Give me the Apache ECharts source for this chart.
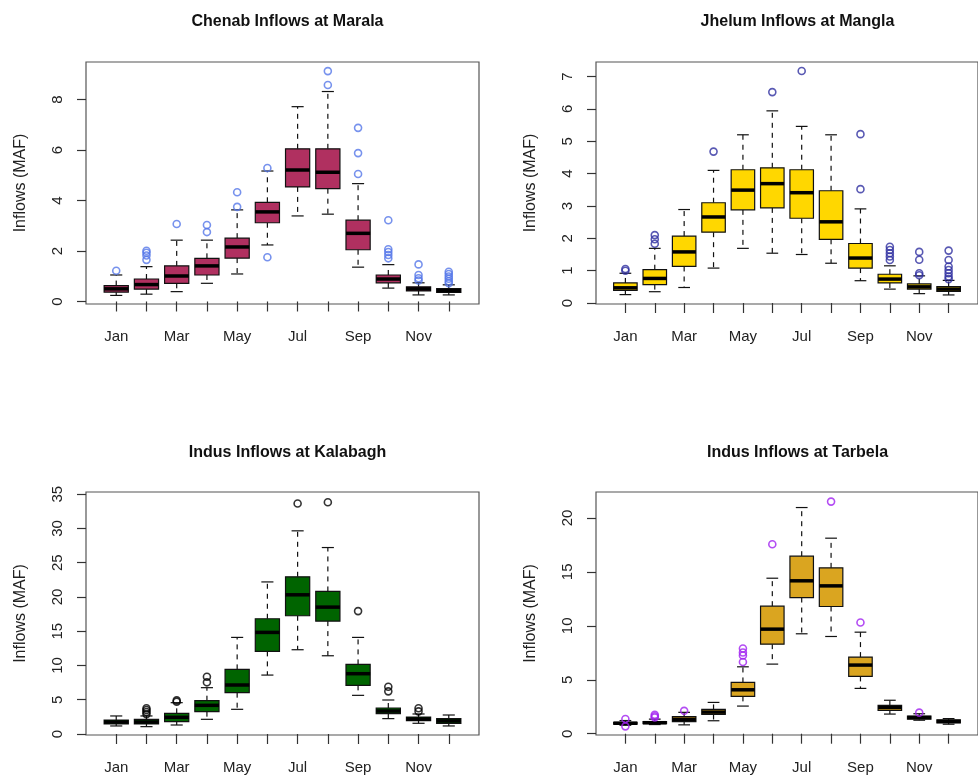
<!DOCTYPE html>
<html>
<head>
<meta charset="utf-8">
<script src="https://cdn.jsdelivr.net/npm/echarts@6/dist/echarts.min.js"></script>
<style>
html,body{margin:0;padding:0;background:#fff;}
#chart{width:978px;height:779px;}
</style>
</head>
<body>
<div id="chart"></div>
<script>
// ---------- data ----------
const months = ['Jan','Feb','Mar','Apr','May','Jun','Jul','Aug','Sep','Oct','Nov','Dec'];
const labelledMonths = [1, 3, 5, 7, 9, 11];
const monthTicks = [1,2,3,4,5,6,7,8,9,10,11,12];

// [lower whisker, Q1, median, Q3, upper whisker] per month
const chenabStats = [
  [0.24, 0.37, 0.50, 0.63, 1.05],
  [0.29, 0.49, 0.67, 0.89, 1.38],
  [0.39, 0.72, 1.01, 1.41, 2.43],
  [0.72, 1.05, 1.41, 1.71, 2.43],
  [1.09, 1.72, 2.16, 2.51, 3.63],
  [2.24, 3.12, 3.55, 3.93, 5.17],
  [3.39, 4.54, 5.21, 6.05, 7.72],
  [3.46, 4.47, 5.12, 6.05, 8.32],
  [1.36, 2.05, 2.70, 3.22, 4.67],
  [0.53, 0.74, 0.89, 1.05, 1.46],
  [0.26, 0.42, 0.50, 0.58, 0.74],
  [0.26, 0.36, 0.43, 0.51, 0.66]
];
const chenabOutliers = [
  [1,1.22],[2,1.65],[2,1.82],[2,1.93],[2,2.01],[3,3.07],[4,2.75],[4,3.03],
  [5,3.75],[5,4.33],[6,5.29],[6,1.75],[8,8.58],[8,9.13],[9,5.05],[9,5.88],[9,6.88],
  [10,1.71],[10,1.84],[10,1.96],[10,2.07],[10,3.22],[11,0.83],[11,0.92],[11,1.05],[11,1.47],
  [12,0.72],[12,0.80],[12,0.90],[12,0.99],[12,1.09],[12,1.18]
];
const chenabTicks = [0, 2, 4, 6, 8];

const jhelumStats = [
  [0.26, 0.39, 0.47, 0.62, 0.92],
  [0.35, 0.57, 0.76, 1.03, 1.69],
  [0.48, 1.13, 1.58, 2.07, 2.89],
  [1.08, 2.19, 2.66, 3.10, 4.10],
  [1.69, 2.88, 3.49, 4.12, 5.20],
  [1.54, 2.94, 3.69, 4.18, 5.94],
  [1.50, 2.62, 3.41, 4.12, 5.46],
  [1.23, 1.97, 2.51, 3.47, 5.20],
  [0.69, 1.08, 1.39, 1.84, 2.91],
  [0.43, 0.62, 0.74, 0.89, 1.15],
  [0.29, 0.43, 0.50, 0.59, 0.84],
  [0.25, 0.36, 0.43, 0.51, 0.70]
];
const jhelumOutliers = [
  [1,1.0],[1,1.05],[2,1.83],[2,1.97],[2,2.1],[4,4.68],[6,6.52],[7,7.17],[9,3.52],[9,5.22],
  [10,1.33],[10,1.44],[10,1.54],[10,1.64],[10,1.74],[11,0.86],[11,0.92],[11,1.34],[11,1.58],
  [12,0.74],[12,0.82],[12,0.92],[12,1.02],[12,1.13],[12,1.33],[12,1.62]
];
const jhelumTicks = [0, 1, 2, 3, 4, 5, 6, 7];

const kalabaghStats = [
  [1.17, 1.46, 1.75, 2.04, 2.63],
  [1.07, 1.46, 1.75, 2.14, 2.63],
  [1.31, 1.80, 2.43, 3.01, 4.57],
  [2.14, 3.26, 4.18, 4.86, 6.76],
  [3.60, 6.03, 7.15, 9.43, 14.1],
  [8.60, 12.06, 14.83, 16.82, 22.2],
  [12.3, 17.26, 20.32, 22.95, 29.66],
  [11.42, 16.48, 18.52, 20.81, 27.22],
  [5.64, 7.10, 8.80, 10.16, 14.1],
  [2.24, 2.97, 3.35, 3.79, 4.96],
  [1.56, 1.94, 2.19, 2.48, 2.92],
  [1.17, 1.56, 1.90, 2.24, 2.77]
];
const kalabaghOutliers = [
  [2,2.9],[2,3.2],[2,3.5],[2,3.75],[3,4.7],[3,4.9],[4,7.54],[4,8.36],[7,33.65],[8,33.84],
  [9,17.94],[10,6.22],[10,6.9],[11,3.3],[11,3.75]
];
const kalabaghTicks = [0, 5, 10, 15, 20, 25, 30, 35];

const tarbelaStats = [
  [0.78, 0.88, 0.97, 1.06, 1.22],
  [0.85, 0.93, 1.02, 1.12, 1.35],
  [0.82, 1.12, 1.33, 1.58, 1.98],
  [1.20, 1.78, 2.00, 2.25, 2.90],
  [2.56, 3.46, 4.07, 4.75, 6.20],
  [6.45, 8.30, 9.69, 11.82, 14.41],
  [9.26, 12.62, 14.17, 16.45, 20.96],
  [9.01, 11.79, 13.70, 15.37, 18.12],
  [4.20, 5.31, 6.36, 7.10, 9.41],
  [1.82, 2.15, 2.42, 2.62, 3.10],
  [1.25, 1.35, 1.50, 1.62, 1.85],
  [0.88, 1.00, 1.14, 1.28, 1.40]
];
const tarbelaOutliers = [
  [1,0.68],[1,1.36],[2,1.5],[2,1.62],[2,1.75],[3,2.12],[5,6.64],[5,7.25],[5,7.53],[5,7.9],
  [6,17.56],[8,21.51],[9,10.31],[11,1.95]
];
const tarbelaTicks = [0, 5, 10, 15, 20];

// ---------- chart ----------
const FONT = "'Liberation Sans', Arial, Helvetica, sans-serif";

const panels = [
  {title:'Chenab Inflows at Marala', stats:chenabStats, out:chenabOutliers, ticks:chenabTicks,
   fill:'#B03060', outColor:'#5577e8', ymin:-0.1, ymax:9.49,
   grid:{left:86, top:62, width:393, height:242}, titleTop:9},
  {title:'Jhelum Inflows at Mangla', stats:jhelumStats, out:jhelumOutliers, ticks:jhelumTicks,
   fill:'#FFD700', outColor:'#2f2fa0', ymin:-0.03, ymax:7.45,
   grid:{left:596, top:62, width:393, height:242}, titleTop:9},
  {title:'Indus Inflows at Kalabagh', stats:kalabaghStats, out:kalabaghOutliers, ticks:kalabaghTicks,
   fill:'#006400', outColor:'#000000', ymin:-0.15, ymax:35.33,
   grid:{left:86, top:492, width:393, height:243}, titleTop:440},
  {title:'Indus Inflows at Tarbela', stats:tarbelaStats, out:tarbelaOutliers, ticks:tarbelaTicks,
   fill:'#DAA520', outColor:'#A020F0', ymin:-0.12, ymax:22.4,
   grid:{left:596, top:492, width:393, height:243}, titleTop:440}
];

function boxRenderer(fill) {
  return function (params, api) {
    const x = api.value(0);
    const lo = api.coord([x, api.value(1)]);
    const q1 = api.coord([x, api.value(2)]);
    const md = api.coord([x, api.value(3)]);
    const q3 = api.coord([x, api.value(4)]);
    const hi = api.coord([x, api.value(5)]);
    const w = api.size([0.8, 0])[0];
    const cx = lo[0];
    const half = w / 2, sw = w / 4;
    const dash = {stroke:'#111', lineWidth:1.2, lineDash:[5,5]};
    const solid = {stroke:'#111', lineWidth:1.2};
    return {
      type:'group',
      children:[
        {type:'line', shape:{x1:cx, y1:q1[1], x2:cx, y2:lo[1]}, style:dash},
        {type:'line', shape:{x1:cx, y1:q3[1], x2:cx, y2:hi[1]}, style:dash},
        {type:'line', shape:{x1:cx - sw, y1:lo[1], x2:cx + sw, y2:lo[1]}, style:solid},
        {type:'line', shape:{x1:cx - sw, y1:hi[1], x2:cx + sw, y2:hi[1]}, style:solid},
        {type:'rect', shape:{x:cx - half, y:q3[1], width:w, height:q1[1] - q3[1]},
         style:{fill:fill, stroke:'#111', lineWidth:1.2}},
        {type:'line', shape:{x1:cx - half, y1:md[1], x2:cx + half, y2:md[1]},
         style:{stroke:'#000', lineWidth:3.5}}
      ]
    };
  };
}

const option = {
  animation:false,
  backgroundColor:'#fff',
  title:[], grid:[], xAxis:[], yAxis:[], series:[]
};

panels.forEach((p, i) => {
  option.title.push({
    text:p.title, left:p.grid.left + p.grid.width / 2, top:p.titleTop, textAlign:'center',
    textStyle:{fontFamily:FONT, fontSize:16, fontWeight:'bold', color:'#111'}
  });
  option.grid.push(Object.assign({show:true, borderColor:'#555', borderWidth:1.2,
    backgroundColor:'transparent', containLabel:false}, p.grid));
  option.xAxis.push({
    type:'value', gridIndex:i, min:0, max:13,
    axisLine:{show:false}, splitLine:{show:false},
    axisTick:{show:true, customValues:monthTicks, length:10, lineStyle:{color:'#333', width:1.2}},
    axisLabel:{show:true, customValues:labelledMonths, margin:25,
      formatter:v => months[Math.round(v) - 1] || '',
      fontFamily:FONT, fontSize:15, color:'#222'}
  });
  option.yAxis.push({
    type:'value', gridIndex:i, min:p.ymin, max:p.ymax,
    name:'Inflows (MAF)', nameLocation:'middle', nameGap:57,
    nameTextStyle:{fontFamily:FONT, fontSize:16, color:'#222'},
    axisLine:{show:false}, splitLine:{show:false},
    axisTick:{show:true, customValues:p.ticks, length:9, lineStyle:{color:'#333', width:1.2}},
    axisLabel:{show:true, customValues:p.ticks, rotate:90, margin:21,
      fontFamily:FONT, fontSize:15, color:'#222'}
  });
  option.series.push({
    type:'custom', xAxisIndex:i, yAxisIndex:i,
    renderItem:boxRenderer(p.fill),
    encode:{x:0, y:[1,2,3,4,5]},
    data:p.stats.map((s, k) => [k + 1].concat(s)),
    z:2
  });
  option.series.push({
    type:'scatter', xAxisIndex:i, yAxisIndex:i,
    symbol:'circle', symbolSize:7,
    itemStyle:{color:'rgba(0,0,0,0)', borderColor:p.outColor, borderWidth:1.6},
    data:p.out,
    z:3
  });
});

const chart = echarts.init(document.getElementById('chart'), null, {renderer:'canvas'});
chart.setOption(option);
</script>
</body>
</html>
